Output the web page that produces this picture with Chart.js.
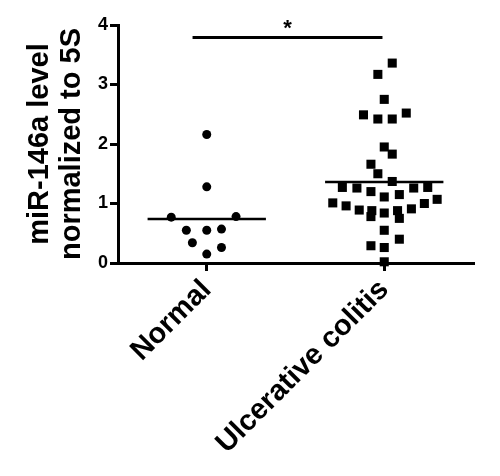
<!DOCTYPE html>
<html lang="en">
<head>
  <meta charset="UTF-8" />
  <title>miR-146a level</title>
  <script src="https://cdn.jsdelivr.net/npm/chart.js"></script>
  <style>
    * { margin: 0; padding: 0; box-sizing: border-box; }
    body { background: #fff; width: 500px; height: 476px; overflow: hidden; }
    #wrap { position: relative; width: 500px; height: 476px; }
  </style>
</head>
<body>
  <div id="wrap"><canvas id="chart"></canvas></div>

  <script>
    // groups on the x axis (positions 1 and 2)
    const groups = ['Normal', 'Ulcerative colitis'];

    // Normal samples: values and horizontal scatter offsets
    const normalValues = [2.16, 1.28, 0.77, 0.78, 0.55, 0.55, 0.57, 0.34, 0.26, 0.15];
    const normalOffsets = [0, 0, -0.2, 0.165, -0.115, 0, 0.083, -0.081, 0.083, 0];

    // Ulcerative colitis samples
    const ucValues = [3.36, 3.17, 2.75, 2.49, 2.42, 2.42, 2.52, 1.95, 1.83, 1.66, 1.50, 1.37,
      1.27, 1.26, 1.20, 1.11, 1.15, 1.26, 1.27, 1.07,
      1.01, 0.96, 0.89, 0.88, 0.78, 0.84, 0.88, 0.75, 0.91, 1.00,
      0.55, 0.40, 0.29, 0.26, 0.02];
    const ucOffsets = [0.045, -0.036, 0, -0.117, -0.036, 0.045, 0.124, 0, 0.045, -0.075, -0.036, 0.045,
      -0.236, -0.154, -0.075, 0, 0.085, 0.166, 0.245, 0.298,
      -0.29, -0.215, -0.141, -0.07, -0.075, 0, 0.075, 0.085, 0.153, 0.226,
      0, 0.085, -0.075, 0, 0];

    // group means (horizontal lines)
    const means = [0.74, 1.36];
    const meanHalfWidth = 1 / 3;

    // significance bracket
    const bracketX = [0.92, 1.99];
    const bracketY = 3.79;
    const sigLabel = '*';

    const yTicks = [0, 1, 2, 3, 4];

    const normalPts = normalValues.map((v, i) => ({ x: 1 + normalOffsets[i], y: v }));
    const ucPts = ucValues.map((v, i) => ({ x: 2 + ucOffsets[i], y: v }));

    const meanLine = (i) => ({
      type: 'line',
      data: [{ x: i + 1 - meanHalfWidth, y: means[i] }, { x: i + 1 + meanHalfWidth, y: means[i] }],
      borderColor: '#000',
      borderWidth: 2.5,
      pointRadius: 0,
      clip: false
    });

    const starPlugin = {
      id: 'star',
      afterDatasetsDraw(chart) {
        const { ctx, scales } = chart;
        const x = scales.x.getPixelForValue((bracketX[0] + bracketX[1]) / 2);
        const y = scales.y.getPixelForValue(bracketY) - 13;
        ctx.save();
        ctx.fillStyle = '#000';
        ctx.font = 'bold 22px "Liberation Sans", Arial, sans-serif';
        ctx.textAlign = 'center';
        ctx.textBaseline = 'middle';
        ctx.fillText(sigLabel, x, y + 4);
        ctx.restore();
      }
    };

    new Chart(document.getElementById('chart'), {
      type: 'scatter',
      data: {
        datasets: [
          {
            data: normalPts,
            pointStyle: 'circle',
            pointRadius: 4.5,
            pointHoverRadius: 4.5,
            backgroundColor: '#000',
            borderWidth: 0,
            clip: false
          },
          {
            data: ucPts,
            pointStyle: 'rect',
            pointRadius: 6.4,
            pointHoverRadius: 6.4,
            backgroundColor: '#000',
            borderWidth: 0,
            clip: false
          },
          meanLine(0),
          meanLine(1),
          {
            type: 'line',
            data: [{ x: bracketX[0], y: bracketY }, { x: bracketX[1], y: bracketY }],
            borderColor: '#000',
            borderWidth: 3,
            pointRadius: 0,
            clip: false
          }
        ]
      },
      options: {
        responsive: true,
        maintainAspectRatio: false,
        animation: false,
        layout: { padding: { top: 25, right: 27, left: 0, bottom: 0 } },
        plugins: { legend: { display: false }, tooltip: { enabled: false } },
        scales: {
          x: {
            type: 'linear',
            min: 0.5,
            max: 2.5,
            afterBuildTicks: (scale) => { scale.ticks = [{ value: 1 }, { value: 2 }]; },
            afterFit: (scale) => { scale.height = 213; },
            border: { display: true, color: '#000', width: 3 },
            grid: { drawOnChartArea: false, drawTicks: true, tickLength: 8, color: '#000', lineWidth: 3 },
            ticks: {
              autoSkip: false,
              minRotation: 45,
              maxRotation: 45,
              padding: 2,
              color: '#000',
              font: { family: '"Liberation Sans", Arial, sans-serif', size: 29, weight: 'bold' },
              callback: (v) => groups[Math.round(v) - 1]
            }
          },
          y: {
            min: 0,
            max: 4,
            afterBuildTicks: (scale) => { scale.ticks = yTicks.map(v => ({ value: v })); },
            afterFit: (scale) => { scale.width = 118; },
            border: { display: true, color: '#000', width: 3 },
            grid: { drawOnChartArea: false, drawTicks: true, tickLength: 8, color: '#000', lineWidth: 3 },
            ticks: {
              padding: 2,
              color: '#000',
              font: { family: '"Liberation Sans", Arial, sans-serif', size: 18, weight: 'bold' }
            },
            title: {
              display: true,
              text: ['miR-146a level', 'normalized to 5S'],
              color: '#000',
              padding: { top: 24, bottom: 0 },
              font: { family: '"Liberation Sans", Arial, sans-serif', size: 29, weight: 'bold', lineHeight: 1.1 }
            }
          }
        }
      },
      plugins: [starPlugin]
    });
  </script>
</body>
</html>
